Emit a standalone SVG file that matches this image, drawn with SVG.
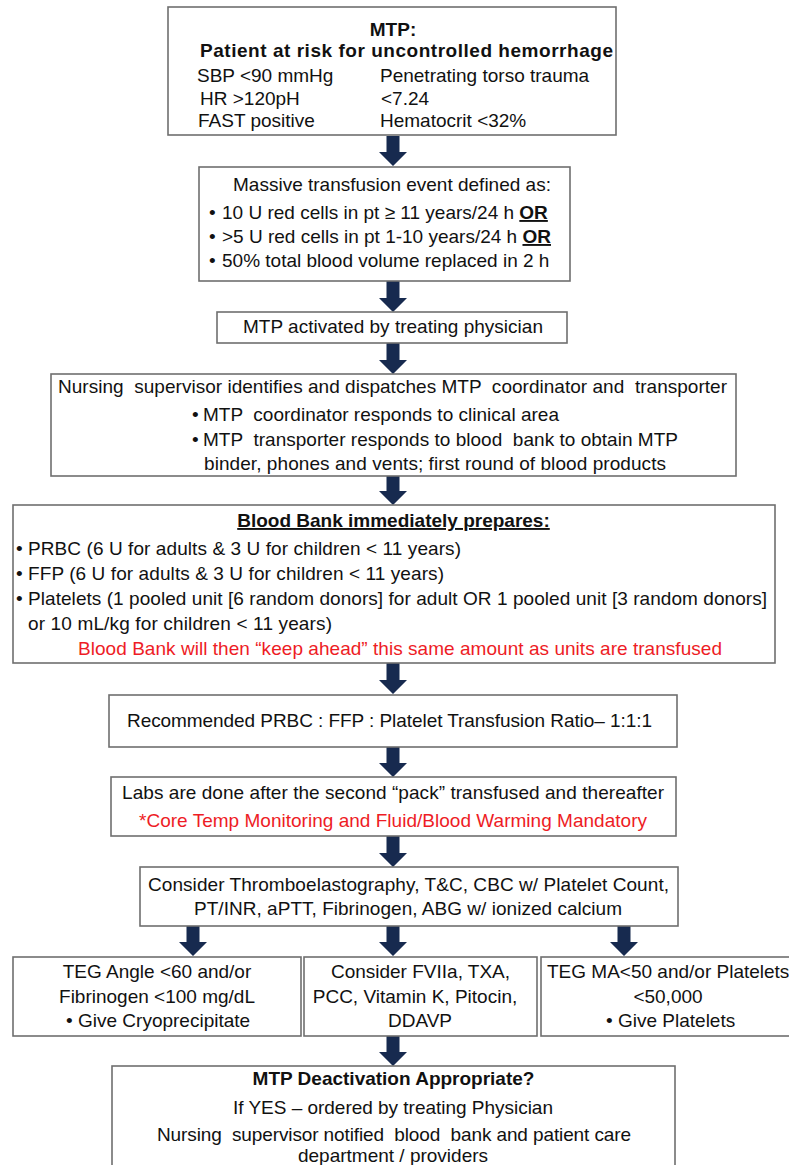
<svg xmlns="http://www.w3.org/2000/svg" width="789" height="1165" viewBox="0 0 789 1165">
<style>
.box{fill:#fff;stroke:#6f6f6f;stroke-width:1.6}
.t{font-family:"Liberation Sans",Arial,sans-serif;font-size:19px;fill:#111}
.b{font-weight:bold}
.c{text-anchor:middle}
.r{fill:#ee1c25}
.u{text-decoration:underline}
.arr{fill:#172a4f}
</style>
<rect width="789" height="1165" fill="#fff"/>

<g id="connectors">
<path class="arr" d="M386.5,136 H399.5 V152 H407 L393,166 L379,152 H386.5 Z"/>
<path class="arr" d="M386.5,281 H399.5 V298 H407 L393,312 L379,298 H386.5 Z"/>
<path class="arr" d="M386.5,343 H399.5 V360 H407 L393,374 L379,360 H386.5 Z"/>
<path class="arr" d="M386.5,476 H399.5 V491 H407 L393,505 L379,491 H386.5 Z"/>
<path class="arr" d="M386.5,663 H399.5 V680 H407 L393,694 L379,680 H386.5 Z"/>
<path class="arr" d="M386.5,747 H399.5 V763 H407 L393,777 L379,763 H386.5 Z"/>
<path class="arr" d="M386.5,836 H399.5 V853 H407 L393,867 L379,853 H386.5 Z"/>
<path class="arr" d="M186.5,926 H199.5 V942 H207 L193,956 L179,942 H186.5 Z"/>
<path class="arr" d="M386.5,926 H399.5 V942 H407 L393,956 L379,942 H386.5 Z"/>
<path class="arr" d="M617.5,926 H630.5 V942 H638 L624,956 L610,942 H617.5 Z"/>
<path class="arr" d="M386.5,1036 H399.5 V1052 H407 L393,1066 L379,1052 H386.5 Z"/>
</g>

<g id="n1">
<rect class="box" x="168" y="7" width="448" height="128"/>
<text class="t b c" x="393" y="36" font-size="20">MTP:</text>
<text class="t b" x="200" y="57" font-size="20" textLength="413" lengthAdjust="spacing">Patient at risk for uncontrolled hemorrhage</text>
<text class="t" x="197" y="82">SBP &lt;90 mmHg</text>
<text class="t" x="380" y="82">Penetrating torso trauma</text>
<text class="t" x="200" y="105">HR &gt;120pH</text>
<text class="t" x="381" y="105">&lt;7.24</text>
<text class="t" x="198" y="127">FAST positive</text>
<text class="t" x="380" y="127">Hematocrit &lt;32%</text>
</g>

<g id="n2">
<rect class="box" x="199" y="167" width="371" height="114"/>
<text class="t c" x="392" y="191">Massive transfusion event defined as:</text>
<text class="t" x="209" y="219">•</text>
<text class="t" x="222" y="219">10 U red cells in pt ≥ 11 years/24 h <tspan class="b u">OR</tspan></text>
<text class="t" x="209" y="243">•</text>
<text class="t" x="222" y="243">&gt;5 U red cells in pt 1-10 years/24 h <tspan class="b u">OR</tspan></text>
<text class="t" x="209" y="267">•</text>
<text class="t" x="222" y="267">50% total blood volume replaced in 2 h</text>
</g>

<g id="n3">
<rect class="box" x="217" y="312" width="350" height="31"/>
<text class="t" x="243" y="333" textLength="300" lengthAdjust="spacing">MTP activated by treating physician</text>
</g>

<g id="n4">
<rect class="box" x="51" y="374" width="685" height="102"/>
<text class="t" x="58" y="393" textLength="669" lengthAdjust="spacing" xml:space="preserve">Nursing  supervisor identifies and dispatches MTP  coordinator and  transporter</text>
<text class="t" x="192" y="421">•</text>
<text class="t" x="203" y="421" textLength="356" lengthAdjust="spacing" xml:space="preserve">MTP  coordinator responds to clinical area</text>
<text class="t" x="192" y="446">•</text>
<text class="t" x="203" y="446" textLength="475" lengthAdjust="spacing" xml:space="preserve">MTP  transporter responds to blood  bank to obtain MTP</text>
<text class="t" x="204" y="470" textLength="462" lengthAdjust="spacing">binder, phones and vents; first round of blood products</text>
</g>

<g id="n5">
<rect class="box" x="13" y="505" width="762" height="158"/>
<text class="t b c u" x="393.5" y="527">Blood Bank immediately prepares:</text>
<text class="t" x="16" y="555">•</text>
<text class="t" x="28" y="555" textLength="433" lengthAdjust="spacing">PRBC (6 U for adults &amp; 3 U for children &lt; 11 years)</text>
<text class="t" x="16" y="580">•</text>
<text class="t" x="28" y="580" textLength="416" lengthAdjust="spacing">FFP (6 U for adults &amp; 3 U for children &lt; 11 years)</text>
<text class="t" x="16" y="605">•</text>
<text class="t" x="28" y="605" textLength="739" lengthAdjust="spacing">Platelets (1 pooled unit [6 random donors] for adult OR 1 pooled unit [3 random donors]</text>
<text class="t" x="28" y="630" textLength="304" lengthAdjust="spacing">or 10 mL/kg for children &lt; 11 years)</text>
<text class="t r" x="78" y="655" textLength="644" lengthAdjust="spacing">Blood Bank will then “keep ahead” this same amount as units are transfused</text>
</g>

<g id="n6">
<rect class="box" x="109" y="695" width="568" height="52"/>
<text class="t" x="127" y="727" textLength="525" lengthAdjust="spacing">Recommended PRBC : FFP : Platelet Transfusion Ratio– 1:1:1</text>
</g>

<g id="n7">
<rect class="box" x="111" y="777" width="565" height="59"/>
<text class="t" x="122" y="799" textLength="542" lengthAdjust="spacing">Labs are done after the second “pack” transfused and thereafter</text>
<text class="t r" x="139" y="827" textLength="508" lengthAdjust="spacing">*Core Temp Monitoring and Fluid/Blood Warming Mandatory</text>
</g>

<g id="n8">
<rect class="box" x="140" y="867" width="538" height="59"/>
<text class="t" x="148" y="891" textLength="521" lengthAdjust="spacing">Consider Thromboelastography, T&amp;C, CBC w/ Platelet Count,</text>
<text class="t" x="194" y="915" textLength="428" lengthAdjust="spacing">PT/INR, aPTT, Fibrinogen, ABG w/ ionized calcium</text>
</g>

<g id="n9a">
<rect class="box" x="13" y="957" width="288" height="79"/>
<text class="t c" x="157" y="978">TEG Angle &lt;60 and/or</text>
<text class="t c" x="157" y="1003">Fibrinogen &lt;100 mg/dL</text>
<text class="t" x="66" y="1027">•</text>
<text class="t" x="78" y="1027">Give Cryoprecipitate</text>
</g>

<g id="n9b">
<rect class="box" x="304" y="957" width="233" height="79"/>
<text class="t c" x="420.5" y="978">Consider FVIIa, TXA,</text>
<text class="t c" x="415" y="1003">PCC, Vitamin K, Pitocin,</text>
<text class="t c" x="420" y="1027">DDAVP</text>
</g>

<g id="n9c">
<rect class="box" x="541" y="957" width="262" height="79"/>
<text class="t" x="547" y="978">TEG MA&lt;50 and/or Platelets</text>
<text class="t c" x="668" y="1003">&lt;50,000</text>
<text class="t" x="606" y="1027">•</text>
<text class="t" x="618" y="1027">Give Platelets</text>
</g>

<g id="n10">
<rect class="box" x="112" y="1066" width="563" height="110"/>
<text class="t b c" x="393.5" y="1085">MTP Deactivation Appropriate?</text>
<text class="t" x="233" y="1114" textLength="320" lengthAdjust="spacing">If YES – ordered by treating Physician</text>
<text class="t" x="157" y="1141" textLength="474" lengthAdjust="spacing" xml:space="preserve">Nursing  supervisor notified  blood  bank and patient care</text>
<text class="t c" x="393" y="1162">department / providers</text>
</g>
</svg>
